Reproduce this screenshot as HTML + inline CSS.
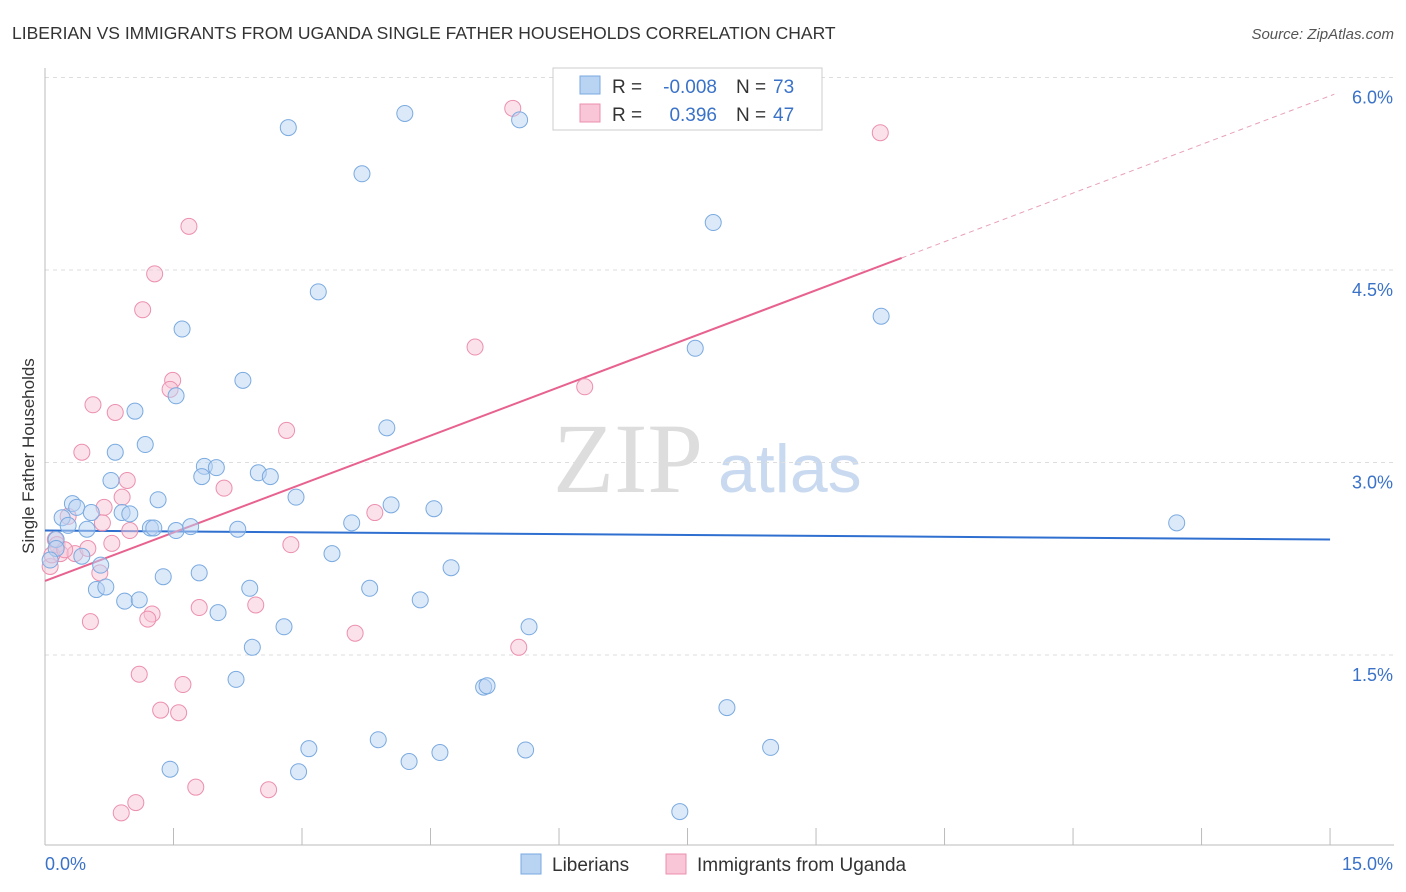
<!DOCTYPE html>
<html><head><meta charset="utf-8"><style>
body{margin:0;background:#fff;font-family:"Liberation Sans",sans-serif;}
svg{display:block}
</style></head><body>
<svg id="chart" width="1406" height="892">
<text x="12" y="39" font-size="17.5" fill="#333">LIBERIAN VS IMMIGRANTS FROM UGANDA SINGLE FATHER HOUSEHOLDS CORRELATION CHART</text>
<text x="1394" y="39" font-size="15" fill="#555" font-style="italic" text-anchor="end">Source: ZipAtlas.com</text>
<text transform="translate(34,456) rotate(-90)" font-size="17" fill="#333" text-anchor="middle">Single Father Households</text>
<text x="553" y="492" font-size="100" fill="#ddd" font-family="Liberation Serif,serif">ZIP</text>
<text x="718" y="492" font-size="68" fill="#c9daf0">atlas</text>
<g id="grid"></g><g id="axes"></g><g id="lines"></g><g id="pts"></g>
<g>
<rect x="553" y="68" width="269" height="62" fill="#fff" stroke="#ccc"/>
<rect x="580" y="76" width="20" height="18" fill="#b9d3f3" stroke="#7aaae0"/>
<rect x="580" y="104" width="20" height="18" fill="#f8c6d6" stroke="#ec8fae"/>
<text x="612" y="93" font-size="19" fill="#333">R =</text>
<text x="717" y="93" font-size="19" fill="#3a72c8" text-anchor="end">-0.008</text>
<text x="736" y="93" font-size="19" fill="#333">N =</text>
<text x="773" y="93" font-size="19" fill="#3a72c8">73</text>
<text x="612" y="121" font-size="19" fill="#333">R =</text>
<text x="717" y="121" font-size="19" fill="#3a72c8" text-anchor="end">0.396</text>
<text x="736" y="121" font-size="19" fill="#333">N =</text>
<text x="773" y="121" font-size="19" fill="#3a72c8">47</text>
</g>
<g>
<rect x="521" y="854" width="20" height="20" fill="#b9d3f3" stroke="#7aaae0"/>
<text x="552" y="871" font-size="19" fill="#333">Liberians</text>
<rect x="666" y="854" width="20" height="20" fill="#f8c6d6" stroke="#ec8fae"/>
<text x="697" y="871" font-size="19" fill="#333">Immigrants from Uganda</text>
</g>
</svg>
<script>
const yTicks=[1.5,3.0,4.5,6.0];
const yTickLabels=["1.5%","3.0%","4.5%","6.0%"];
const xTicks=[0,1.5,3,4.5,6,7.5,9,10.5,12,13.5,15];
const blueX=[2.84,4.20,5.54,3.70,7.80,3.19,9.76,1.60,7.59,2.31,1.53,1.05,3.99,1.17,0.82,1.86,2.00,2.49,2.63,1.83,0.77,2.93,1.32,0.32,0.37,4.04,4.54,0.20,0.54,0.90,0.99,3.58,13.21,0.27,1.23,1.27,1.53,1.70,2.25,0.49,0.13,0.13,3.35,0.43,4.74,0.65,1.38,1.80,2.39,3.79,0.60,0.71,0.93,1.10,4.38,2.02,2.79,5.65,2.42,2.23,5.12,5.16,7.96,3.89,3.08,4.61,5.61,8.47,1.46,2.96,4.25,7.41,0.06];
const blueY=[5.61,5.72,5.67,5.25,4.87,4.33,4.14,4.04,3.89,3.64,3.52,3.40,3.27,3.14,3.08,2.97,2.96,2.92,2.89,2.89,2.86,2.73,2.71,2.68,2.65,2.67,2.64,2.57,2.61,2.61,2.60,2.53,2.53,2.51,2.49,2.49,2.47,2.50,2.48,2.48,2.40,2.33,2.29,2.27,2.18,2.20,2.11,2.14,2.02,2.02,2.01,2.03,1.92,1.93,1.93,1.83,1.72,1.72,1.56,1.31,1.25,1.26,1.09,0.84,0.77,0.74,0.76,0.78,0.61,0.59,0.67,0.28,2.24];
const pinkX=[5.46,9.75,1.68,1.28,1.14,5.02,1.49,1.46,6.30,0.56,0.82,2.82,0.43,2.09,0.96,0.90,0.69,3.85,0.27,0.67,0.99,0.78,2.87,0.12,0.18,0.35,0.50,0.06,0.64,1.80,2.46,1.25,1.20,0.53,3.62,5.53,1.10,1.61,1.35,1.56,1.76,2.61,1.06,0.89,0.14,0.08,0.23];
const pinkY=[5.76,5.57,4.84,4.47,4.19,3.90,3.64,3.57,3.59,3.45,3.39,3.25,3.08,2.80,2.86,2.73,2.65,2.61,2.58,2.53,2.47,2.37,2.36,2.40,2.29,2.29,2.33,2.19,2.14,1.87,1.89,1.82,1.78,1.76,1.67,1.56,1.35,1.27,1.07,1.05,0.47,0.45,0.35,0.27,2.36,2.28,2.32];
const blueLine=[[0,2.47],[15,2.40]];
const pinkLine=[[0,2.077],[10.0,4.594]];
const pinkDash=[[10.0,4.594],[15.05,5.87]];
const NS="http://www.w3.org/2000/svg";
const sx=v=>45+v*85.67, sy=v=>847.5-v*128.33;
function mk(t,a,p){const e=document.createElementNS(NS,t);for(const k in a)e.setAttribute(k,a[k]);document.getElementById(p).appendChild(e);return e;}
yTicks.forEach((t,i)=>{
 const g=mk('line',{x1:45,x2:1394,y1:sy(t),y2:sy(t),stroke:'#ddd','stroke-dasharray':'4,4'},'grid');
 
 
 const l=mk('text',{x:1393,y:sy(t)+26,'font-size':18,fill:'#3a72c8','text-anchor':'end'},'grid');
 l.textContent=yTickLabels[i];
 
 
});
const ax=mk('line',{x1:45,x2:45,y1:68,y2:845,stroke:'#bbb'},'axes');


const bx=mk('line',{x1:45,x2:1394,y1:845,y2:845,stroke:'#bbb'},'axes');


xTicks.forEach(t=>{
 const k=mk('line',{x1:sx(t),x2:sx(t),y1:828,y2:845,stroke:'#bbb'},'axes');
 
 
});
const x0=mk('text',{x:45,y:870,'font-size':18,fill:'#3a72c8'},'axes');x0.textContent='0.0%';


const x1=mk('text',{x:1393,y:870,'font-size':18,fill:'#3a72c8','text-anchor':'end'},'axes');x1.textContent='15.0%';


function dot(x,y,f,s,n){const c=mk('circle',{cx:sx(x),cy:sy(y),r:8,fill:f,'fill-opacity':0.5,stroke:s,'stroke-width':1},'pts');
 
 }
pinkX.forEach((x,i)=>dot(x,pinkY[i],'#f8c6d6','#ec8fae','uganda-point'));
blueX.forEach((x,i)=>dot(x,blueY[i],'#b9d3f3','#7aaae0','liberian-point'));
const bl=mk('line',{x1:sx(blueLine[0][0]),y1:sy(blueLine[0][1]),x2:sx(blueLine[1][0]),y2:sy(blueLine[1][1]),stroke:'#2f6fd0','stroke-width':2},'lines');


const pl=mk('line',{x1:sx(pinkLine[0][0]),y1:sy(pinkLine[0][1]),x2:sx(pinkLine[1][0]),y2:sy(pinkLine[1][1]),stroke:'#e8628f','stroke-width':2},'lines');


const pd=mk('line',{x1:sx(pinkDash[0][0]),y1:sy(pinkDash[0][1]),x2:sx(pinkDash[1][0]),y2:sy(pinkDash[1][1]),stroke:'#e8a0b8','stroke-width':1,'stroke-dasharray':'5,4'},'lines');


</script>
</body></html>
